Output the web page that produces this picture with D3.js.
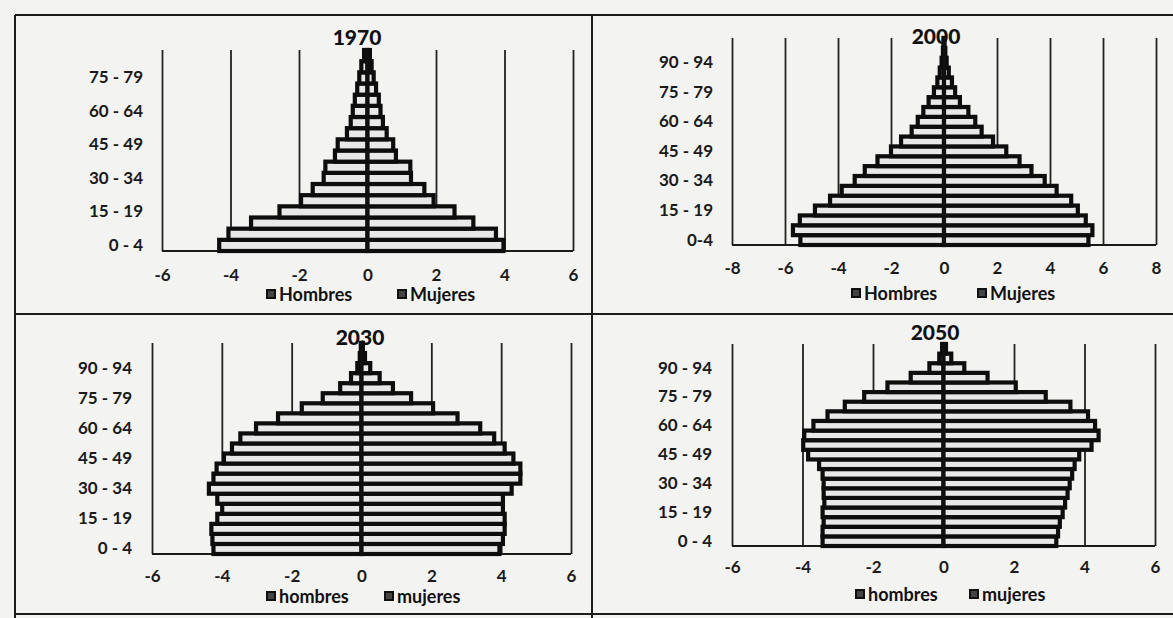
<!DOCTYPE html>
<html>
<head>
<meta charset="utf-8">
<script src="https://cdn.jsdelivr.net/npm/d3@7"></script>
<style>
  body { margin: 0; background: #f3f3f1; }
  svg { display: block; }
  .cat text, .xtick text { font-family: Lato, "Open Sans", sans-serif; font-weight: 700; fill: #1a1a1a; }
</style>
</head>
<body>
<div id="chart"></div>
<script>
// age groups
var ages18 = ["0 - 4","5 - 9","10 - 14","15 - 19","20 - 24","25 - 29","30 - 34","35 - 39","40 - 44",
    "45 - 49","50 - 54","55 - 59","60 - 64","65 - 69","70 - 74","75 - 79","80 - 84","85 +"];
var ages21 = ["0 - 4","5 - 9","10 - 14","15 - 19","20 - 24","25 - 29","30 - 34","35 - 39","40 - 44",
    "45 - 49","50 - 54","55 - 59","60 - 64","65 - 69","70 - 74","75 - 79","80 - 84","85 - 89",
    "90 - 94","95 - 99","100 +"];
var ages2000 = ["0-4","5 - 9","10 - 14","15 - 19","20 - 24","25 - 29","30 - 34","35 - 39","40 - 44",
    "45 - 49","50 - 54","55 - 59","60 - 64","65 - 69","70 - 74","75 - 79","80 - 84","85 - 89",
    "90 - 94","95 - 99","100 +"];

// % of population, youngest group first
var hombres1970 = [4.33, 4.06, 3.4, 2.57, 1.94, 1.6, 1.28, 1.23, 0.95, 0.87, 0.6, 0.49, 0.43, 0.37, 0.3, 0.24, 0.18, 0.1];
var mujeres1970 = [3.97, 3.75, 3.09, 2.54, 1.93, 1.66, 1.27, 1.25, 0.83, 0.75, 0.56, 0.45, 0.38, 0.33, 0.25, 0.18, 0.12, 0.07];

var hombres2000 = [5.42, 5.7, 5.44, 4.87, 4.3, 3.86, 3.37, 2.99, 2.51, 2.0, 1.62, 1.22, 0.99, 0.78, 0.58, 0.38, 0.25, 0.16, 0.09, 0.04, 0.02];
var mujeres2000 = [5.45, 5.6, 5.35, 5.05, 4.8, 4.25, 3.8, 3.3, 2.85, 2.35, 1.85, 1.42, 1.18, 0.92, 0.6, 0.42, 0.3, 0.18, 0.1, 0.05, 0.02];

var hombres2030 = [4.24, 4.27, 4.3, 4.13, 3.99, 4.13, 4.37, 4.24, 4.15, 3.94, 3.71, 3.47, 3.02, 2.39, 1.71, 1.11, 0.61, 0.3, 0.12, 0.05, 0.02];
var mujeres2030 = [3.95, 4.05, 4.1, 4.1, 4.05, 4.05, 4.3, 4.55, 4.55, 4.35, 4.1, 3.8, 3.4, 2.75, 2.05, 1.42, 0.9, 0.52, 0.25, 0.1, 0.04];

var hombres2050 = [3.43, 3.43, 3.4, 3.43, 3.38, 3.4, 3.4, 3.43, 3.53, 3.84, 3.98, 3.95, 3.69, 3.29, 2.8, 2.25, 1.59, 0.93, 0.4, 0.12, 0.04];
var mujeres2050 = [3.2, 3.25, 3.3, 3.38, 3.45, 3.52, 3.58, 3.65, 3.72, 3.85, 4.2, 4.4, 4.3, 4.1, 3.6, 2.9, 2.05, 1.25, 0.59, 0.22, 0.07];

var ticks6 = [-6, -4, -2, 0, 2, 4, 6];
var ticks8 = [-8, -6, -4, -2, 0, 2, 4, 6, 8];

var W = 1173, H = 618;
var FONT = "Lato, 'Open Sans', sans-serif";

var svg = d3.select("#chart").append("svg")
    .attr("width", W)
    .attr("height", H);

// scanned sheet frame
var frame = svg.append("g").attr("stroke", "#1c1c1c").attr("stroke-width", 2);
frame.append("line").attr("x1", 15).attr("y1", 15).attr("x2", W).attr("y2", 15);
frame.append("line").attr("x1", 15).attr("y1", 15).attr("x2", 15).attr("y2", H);
frame.append("line").attr("x1", 592).attr("y1", 15).attr("x2", 592).attr("y2", H);
frame.append("line").attr("x1", 15).attr("y1", 314).attr("x2", W).attr("y2", 314);
frame.append("line").attr("x1", 15).attr("y1", 614).attr("x2", W).attr("y2", 614);

Pyramid = function(_parent, _cfg){
    this.parent = _parent;
    this.cfg = _cfg;
    this.initVis();
};

Pyramid.prototype.initVis = function(){
    var vis = this, c = vis.cfg;

    vis.g = vis.parent.append("g");

    vis.x = d3.scaleLinear().domain(d3.extent(c.ticks)).range([c.left, c.right]);
    vis.y = d3.scaleBand().domain(c.ages).range([c.bottom, c.top]).padding(0);

    // vertical gridlines + tick labels
    var xAxisCall = d3.axisBottom(vis.x)
        .tickValues(c.ticks)
        .tickSize(-(c.bottom - c.top))
        .tickPadding(c.tickY - c.bottom - 6)
        .tickFormat(function(d){ return String(d); });
    vis.xAxis = vis.g.append("g")
        .attr("class", "xtick")
        .attr("transform", "translate(0," + c.bottom + ")")
        .call(xAxisCall);
    vis.xAxis.select(".domain").remove();
    vis.xAxis.selectAll("line").attr("stroke", "#222").attr("stroke-width", 1.8);
    vis.xAxis.selectAll("text").attr("font-size", "17px");

    // bottom axis line
    vis.g.append("line")
        .attr("x1", vis.x.range()[0]).attr("x2", vis.x.range()[1])
        .attr("y1", c.bottom).attr("y2", c.bottom)
        .attr("stroke", "#1a1a1a").attr("stroke-width", 2.2);

    var rows = c.ages.map(function(a, i){ return { age: a, h: c.hombres[i], m: c.mujeres[i] }; });

    // Hombres (left)
    vis.g.selectAll(".bar-h").data(rows).enter().append("rect")
        .attr("class", "bar-h")
        .attr("x", function(d){ return vis.x(-d.h); })
        .attr("y", function(d){ return vis.y(d.age); })
        .attr("width", function(d){ return vis.x(0) - vis.x(-d.h); })
        .attr("height", vis.y.bandwidth())
        .attr("fill", "#e8e8e8")
        .attr("stroke", "#0d0d0d")
        .attr("stroke-width", 4.2);

    // Mujeres (right)
    vis.g.selectAll(".bar-m").data(rows).enter().append("rect")
        .attr("class", "bar-m")
        .attr("x", vis.x(0))
        .attr("y", function(d){ return vis.y(d.age); })
        .attr("width", function(d){ return vis.x(d.m) - vis.x(0); })
        .attr("height", vis.y.bandwidth())
        .attr("fill", "#e8e8e8")
        .attr("stroke", "#0d0d0d")
        .attr("stroke-width", 4.2);

    // centre axis
    vis.g.append("line")
        .attr("x1", vis.x(0)).attr("x2", vis.x(0))
        .attr("y1", c.top).attr("y2", c.bottom)
        .attr("stroke", "#111").attr("stroke-width", 2.6);

    // age labels, every third group
    var yAxisCall = d3.axisLeft(vis.y)
        .tickValues(c.ages.filter(function(d, i){ return i % 3 === 0; }))
        .tickSize(0)
        .tickPadding(0);
    vis.yAxis = vis.g.append("g")
        .attr("class", "cat")
        .attr("transform", "translate(" + c.labelRight + ",0)")
        .call(yAxisCall);
    vis.yAxis.select(".domain").remove();
    vis.yAxis.selectAll("text").attr("font-size", "17px");

    // title
    vis.g.append("text")
        .attr("x", c.titleX)
        .attr("y", c.titleY)
        .attr("text-anchor", "middle")
        .attr("dominant-baseline", "central")
        .attr("font-family", FONT)
        .attr("font-weight", 900)
        .attr("font-size", "21px")
        .attr("fill", "#111")
        .text(c.title);

    // legend
    var leg = vis.g.selectAll(".leg").data(c.legend).enter().append("g")
        .attr("class", "leg")
        .attr("transform", function(d){ return "translate(" + d.x + "," + c.legendY + ")"; });
    leg.append("rect")
        .attr("x", 0).attr("y", -4)
        .attr("width", 8).attr("height", 8)
        .attr("fill", "#444")
        .attr("stroke", "#111")
        .attr("stroke-width", 2);
    leg.append("text")
        .attr("x", 12)
        .attr("dominant-baseline", "central")
        .attr("font-family", FONT)
        .attr("font-weight", 700)
        .attr("font-size", "18px")
        .attr("fill", "#111")
        .text(function(d){ return d.label; });
};

new Pyramid(svg, {
    title: "1970", titleX: 357, titleY: 36,
    ages: ages18, hombres: hombres1970, mujeres: mujeres1970, ticks: ticks6,
    left: 162, right: 573, top: 50, bottom: 251, tickY: 275, labelRight: 143,
    legendY: 294, legend: [{ x: 267, label: "Hombres" }, { x: 398, label: "Mujeres" }]
});

new Pyramid(svg, {
    title: "2000", titleX: 936, titleY: 35,
    ages: ages2000, hombres: hombres2000, mujeres: mujeres2000, ticks: ticks8,
    left: 732, right: 1156, top: 38, bottom: 245, tickY: 268, labelRight: 713,
    legendY: 293, legend: [{ x: 852, label: "Hombres" }, { x: 978, label: "Mujeres" }]
});

new Pyramid(svg, {
    title: "2030", titleX: 360, titleY: 336,
    ages: ages21, hombres: hombres2030, mujeres: mujeres2030, ticks: ticks6,
    left: 152, right: 571, top: 343, bottom: 554, tickY: 576, labelRight: 132,
    legendY: 596, legend: [{ x: 267, label: "hombres" }, { x: 385, label: "mujeres" }]
});

new Pyramid(svg, {
    title: "2050", titleX: 935, titleY: 331,
    ages: ages21, hombres: hombres2050, mujeres: mujeres2050, ticks: ticks6,
    left: 732, right: 1155, top: 344, bottom: 546, tickY: 567, labelRight: 712,
    legendY: 594, legend: [{ x: 856, label: "hombres" }, { x: 970, label: "mujeres" }]
});
</script>
</body>
</html>
